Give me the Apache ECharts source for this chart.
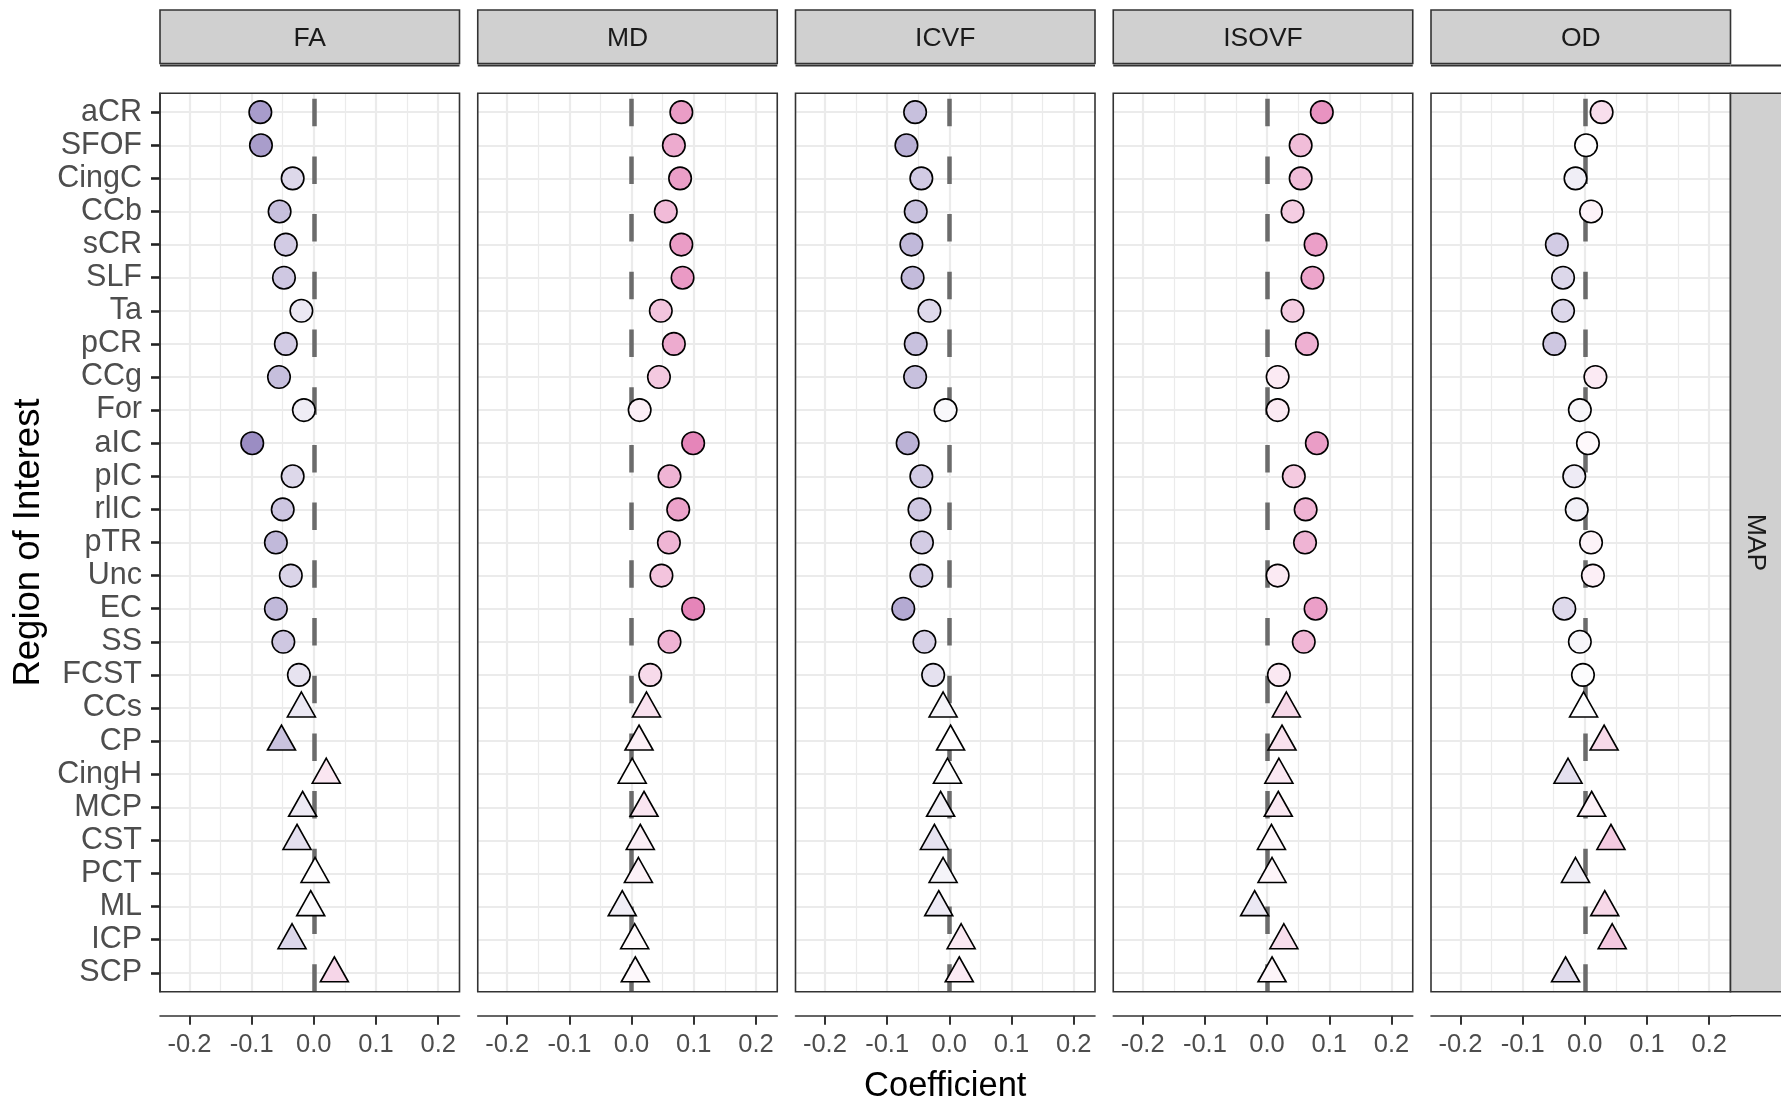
<!DOCTYPE html>
<html><head><meta charset="utf-8">
<script src="https://cdn.jsdelivr.net/npm/echarts@6/dist/echarts.min.js"></script>
<style>html,body{margin:0;padding:0;background:#fff}#c{width:1781px;height:1100px}</style>
</head><body><div id="c"></div>
<script>
// ---------------- data ----------------
const regions = ['aCR','SFOF','CingC','CCb','sCR','SLF','Ta','pCR','CCg','For','aIC','pIC','rlIC','pTR','Unc','EC','SS','FCST','CCs','CP','CingH','MCP','CST','PCT','ML','ICP','SCP'];
const regionShape = ['circle','circle','circle','circle','circle','circle','circle','circle','circle','circle','circle','circle','circle','circle','circle','circle','circle','circle',
                     'triangle','triangle','triangle','triangle','triangle','triangle','triangle','triangle','triangle'];
const metrics = ['FA','MD','ICVF','ISOVF','OD'];
const FA    = [-0.086,-0.085,-0.034,-0.055,-0.045,-0.048,-0.020,-0.045,-0.056,-0.016,-0.099,-0.034,-0.050,-0.061,-0.037,-0.061,-0.049,-0.024,-0.020,-0.052, 0.020,-0.018,-0.027, 0.002,-0.005,-0.035, 0.033];
const MD    = [ 0.080, 0.068, 0.078, 0.055, 0.080, 0.082, 0.047, 0.068, 0.044, 0.013, 0.099, 0.061, 0.075, 0.060, 0.048, 0.099, 0.061, 0.030, 0.024, 0.012, 0.001, 0.020, 0.014, 0.011,-0.015, 0.005, 0.006];
const ICVF  = [-0.055,-0.069,-0.045,-0.054,-0.061,-0.059,-0.032,-0.054,-0.055,-0.006,-0.067,-0.045,-0.048,-0.044,-0.045,-0.074,-0.040,-0.026,-0.010, 0.002,-0.003,-0.014,-0.024,-0.010,-0.017, 0.019, 0.016];
const ISOVF = [ 0.088, 0.054, 0.054, 0.041, 0.078, 0.073, 0.041, 0.064, 0.017, 0.017, 0.080, 0.043, 0.062, 0.061, 0.017, 0.078, 0.059, 0.019, 0.031, 0.024, 0.019, 0.018, 0.007, 0.008,-0.020, 0.027, 0.008];
const OD    = [ 0.027, 0.002,-0.015, 0.010,-0.045,-0.035,-0.035,-0.049, 0.017,-0.008, 0.005,-0.017,-0.013, 0.010, 0.013,-0.033,-0.008,-0.003,-0.002, 0.031,-0.027, 0.011, 0.042,-0.015, 0.032, 0.044,-0.031];
const xTicks = [-0.2,-0.1,0,0.1,0.2];
const xMinorBreaks = [-0.15,-0.05,0.05,0.15];
const rowFacet = 'MAP';
const xTitle = 'Coefficient';
const yTitle = 'Region of Interest';

// ---------------- layout / style ----------------
const metricValues = {FA, MD, ICVF, ISOVF, OD};
const FONT = "'Liberation Sans', Arial, Helvetica, sans-serif";
const P_LEFT = 160, P_STEP = 317.75, P_W = 299.5, P_TOP = 93.3, P_H = 898.4;
const X_MIN = -0.2473, X_MAX = 0.2342, Y_MIN = 0.43, Y_MAX = 27.57;
const N = regions.length;
const yTicks = regions.map((r, i) => N - i);
const grey92 = '#ebebeb', dark = '#333333';

const grids = [], xAxes = [], yAxes = [], series = [], graphics = [];
metrics.forEach((m, p) => {
  const left = P_LEFT + p * P_STEP;
  grids.push({left: left, top: P_TOP, width: P_W, height: P_H, containLabel: false, outerBoundsMode: 'none', show: false});
  xAxes.push({
    gridIndex: p, type: 'value', min: X_MIN, max: X_MAX, position: 'bottom', offset: 24,
    axisLine: {show: true, onZero: false, lineStyle: {color: dark, width: 1.6}},
    axisTick: {show: true, customValues: xTicks, length: 9, lineStyle: {color: dark, width: 2}},
    axisLabel: {show: true, customValues: xTicks, formatter: v => Number(v).toFixed(1), fontSize: 25.5, color: '#4d4d4d', fontFamily: FONT, margin: 16, hideOverlap: false},
    splitLine: {show: true, lineStyle: {color: grey92, width: 2.2}}
  });
  xAxes.push({
    gridIndex: p, type: 'value', min: X_MIN, max: X_MAX, position: 'top',
    axisLine: {show: false, onZero: false}, axisTick: {show: false, customValues: xMinorBreaks},
    axisLabel: {show: false, customValues: xMinorBreaks},
    splitLine: {show: true, lineStyle: {color: grey92, width: 1.2}}
  });
  yAxes.push({
    gridIndex: p, type: 'value', min: Y_MIN, max: Y_MAX,
    axisLine: {show: p === 0, onZero: false, lineStyle: {color: dark, width: 1.6}},
    axisTick: {show: p === 0, customValues: yTicks, length: 9, lineStyle: {color: '#222222', width: 2.6}},
    axisLabel: {show: p === 0, customValues: yTicks, formatter: v => regions[N - Math.round(v)], fontSize: 30.5, color: '#4d4d4d', fontFamily: FONT, margin: 18, hideOverlap: false},
    splitLine: {show: true, lineStyle: {color: grey92, width: 2.2}}
  });
  const vals = metricValues[m];
  ['circle', 'triangle'].forEach(shape => {
    const data = [];
    regions.forEach((r, i) => { if (regionShape[i] === shape) data.push([vals[i], N - i, r]); });
    const s = {
      type: 'scatter', name: m + '-' + shape, xAxisIndex: 2 * p, yAxisIndex: p, data: data,
      symbol: shape, z: 3, silent: true, emphasis: {disabled: true},
      itemStyle: {borderColor: '#000', borderWidth: 1.6, opacity: 1}
    };
    if (shape === 'circle') {
      s.symbolSize = 22.5;
      s.markLine = {
        silent: true, z: 2, symbol: ['none', 'none'], label: {show: false}, emphasis: {disabled: true},
        lineStyle: {color: '#6b6b6b', width: 4.5, type: [27.5, 30.2], opacity: 1},
        data: [{xAxis: 0}]
      };
    } else {
      s.symbolSize = [28, 25];
      s.symbolOffset = [0, -3.5];
    }
    series.push(s);
  });
  // strip
  graphics.push({type: 'rect', z: 100, shape: {x: left, y: 10, width: P_W, height: 53.5}, style: {fill: '#d0d0d0', stroke: dark, lineWidth: 1.6}});
  graphics.push({type: 'line', z: 100, shape: {x1: left, y1: 65.6, x2: left + P_W, y2: 65.6}, style: {stroke: dark, lineWidth: 2}});
  graphics.push({type: 'text', z: 101, x: left + P_W / 2, y: 38.5, style: {text: m, fontSize: 26.5, fontFamily: FONT, fill: '#1a1a1a', align: 'center', verticalAlign: 'middle'}});
  // panel border
  graphics.push({type: 'rect', z: 100, shape: {x: left, y: P_TOP, width: P_W, height: P_H}, style: {fill: 'none', stroke: dark, lineWidth: 1.6}});
});

const rightX = P_LEFT + 4 * P_STEP + P_W;
graphics.push({type: 'rect', z: 100, shape: {x: rightX, y: P_TOP, width: 80, height: P_H}, style: {fill: '#d0d0d0', stroke: dark, lineWidth: 1.6}});
graphics.push({type: 'text', z: 101, x: rightX + 25, y: P_TOP + P_H / 2, rotation: -Math.PI / 2, style: {text: rowFacet, fontSize: 26.5, fontFamily: FONT, fill: '#1a1a1a', align: 'center', verticalAlign: 'middle'}});
graphics.push({type: 'line', z: 100, shape: {x1: rightX, y1: 65.6, x2: 1781, y2: 65.6}, style: {stroke: dark, lineWidth: 2}});
graphics.push({type: 'line', z: 100, shape: {x1: rightX, y1: P_TOP + P_H + 24, x2: 1781, y2: P_TOP + P_H + 24}, style: {stroke: dark, lineWidth: 1.6}});
graphics.push({type: 'text', z: 101, x: (P_LEFT + rightX) / 2, y: 1086, style: {text: xTitle, fontSize: 34.5, fontFamily: FONT, fill: '#000', align: 'center', verticalAlign: 'middle'}});
graphics.push({type: 'text', z: 101, x: 29, y: P_TOP + P_H / 2, rotation: Math.PI / 2, style: {text: yTitle, fontSize: 36.5, fontFamily: FONT, fill: '#000', align: 'center', verticalAlign: 'middle'}});

const chart = echarts.init(document.getElementById('c'), null, {renderer: 'canvas', width: 1781, height: 1100});
chart.setOption({
  animation: false,
  backgroundColor: '#ffffff',
  grid: grids, xAxis: xAxes, yAxis: yAxes, series: series,
  visualMap: {type: 'continuous', show: false, min: -0.1, max: 0.1, dimension: 0,
    seriesIndex: series.map((s, i) => i),
    inRange: {color: ['#9a8cc2', '#ffffff', '#e584b8']}},
  graphic: graphics
});
</script></body></html>
